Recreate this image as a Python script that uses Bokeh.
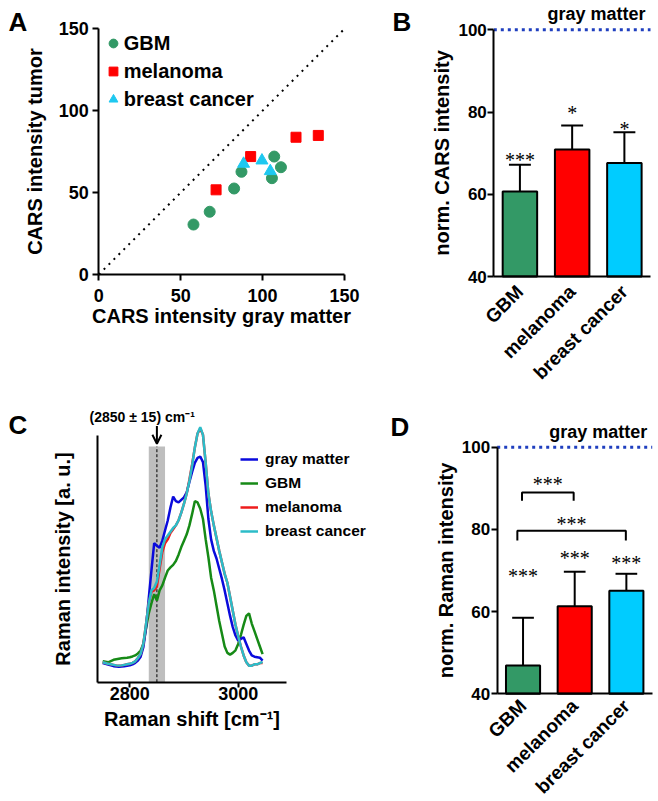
import math
from bokeh.plotting import figure
from bokeh.models import (Range1d, FixedTicker, Label, LabelSet, Legend, LegendItem,
                          Arrow, OpenHead, ColumnDataSource, LinearAxis)
from bokeh.embed import file_html
from bokeh.resources import INLINE

FONT = "Liberation Sans"

# ---------------- data ----------------
# Panel A: CARS intensity gray matter (x) vs tumor (y)
gbm_gray = [57.8, 67.7, 82.6, 87.1, 107.1, 111.2, 105.7]
gbm_tumor = [30.5, 38.3, 52.5, 62.7, 72.0, 65.5, 58.8]
mel_gray = [71.6, 92.7, 120.4, 134.0]
mel_tumor = [51.7, 72.0, 83.8, 84.9]
brc_gray = [88.4, 99.6, 104.7]
brc_tumor = [67.6, 69.6, 63.1]
identity = [0, 150]
a_ticks = [0, 50, 100, 150]

# Panels B and D: normalised intensities (gray matter = 100)
groups = ["GBM", "melanoma", "breast cancer"]
cat_pos = [0, 1, 2]
cat_extent = [-0.5, 2.5]
cars_mean = [60.7, 70.9, 67.6]
cars_err = [67.2, 76.7, 75.1]
cars_stars = ["***", "*", "*"]
cars_star_y = [69.4, 80.8, 76.9]

raman_mean = [46.9, 61.3, 65.1]
raman_err = [58.5, 69.7, 69.2]
raman_stars = ["***", "***", "***"]
raman_star_y = [69.6, 74.1, 72.8]
bracket_left = [-0.02, -0.11]
bracket_right = [0.98, 1.99]
bracket_top = [89.0, 79.7]
bracket_end = [87.0, 77.3]
bracket_stars = ["***", "***"]
bracket_star_y = [91.9, 82.3]
bar_ticks = [40, 60, 80, 100]
bar_floor = 40
reference_level = 100

# Panel C: Raman spectra
shift = [2750, 2755, 2760, 2765, 2770, 2775, 2780, 2785, 2790, 2795,
         2800, 2805, 2810, 2815, 2820, 2825, 2830, 2835, 2840, 2845,
         2850, 2855, 2860, 2865, 2870, 2875, 2880, 2885, 2890, 2895,
         2900, 2905, 2910, 2915, 2920, 2925, 2930, 2935, 2940, 2945,
         2950, 2955, 2960, 2965, 2970, 2975, 2980, 2985, 2990, 2995,
         3000, 3005, 3010, 3015, 3020, 3025, 3030, 3035, 3040, 3045]
gray_matter = [7.5, 7.2, 6.9, 6.6, 6.3, 6.2, 6.1, 6.2, 6.3, 6.4,
               6.6, 7.0, 7.6, 8.5, 10.0, 13.7, 21.6, 33.0, 44.0, 54.5,
               53.5, 52.7, 55.5, 59.5, 63.4, 68.5, 72.8, 71.0, 70.5, 71.5,
               72.5, 74.5, 78.5, 82.5, 86.0, 88.0, 88.5, 86.3, 77.0, 64.0,
               56.0, 51.5, 48.5, 44.5, 40.5, 36.0, 31.0, 26.0, 21.6, 18.3,
               16.3, 17.0, 17.6, 15.0, 12.4, 10.5, 10.0, 9.8, 9.6, 8.5]
gbm = [8.2, 8.0, 7.8, 8.3, 8.8, 9.0, 9.2, 9.4, 9.5, 9.6,
       9.8, 10.1, 10.5, 11.3, 12.4, 15.0, 21.0, 27.0, 31.0, 34.5,
       32.0, 36.0, 38.0, 41.0, 43.8, 45.0, 46.0, 47.5, 50.0, 53.0,
       55.5, 58.0, 61.5, 66.0, 71.0, 70.5, 68.0, 64.0, 56.0, 49.0,
       41.0, 36.0, 30.0, 24.0, 19.0, 14.0, 11.5, 10.8, 11.5, 12.5,
       15.0, 18.5, 22.5, 26.0, 27.0, 23.0, 20.0, 17.0, 14.0, 11.0]
melanoma = [7.8, 7.5, 7.2, 7.0, 6.8, 6.6, 6.5, 6.6, 6.8, 7.0,
            7.2, 7.6, 8.2, 9.5, 11.1, 15.0, 22.9, 31.0, 35.5, 36.0,
            37.5, 44.5, 51.0, 54.5, 56.0, 58.5, 60.0, 61.5, 63.5, 66.5,
            70.0, 74.0, 79.5, 85.5, 92.0, 97.5, 99.5, 97.0, 86.0, 74.0,
            67.0, 61.5, 56.5, 51.5, 47.0, 42.5, 39.0, 33.5, 28.0, 22.5,
            18.0, 14.0, 10.5, 7.8, 6.5, 6.5, 7.0, 7.0, 7.5, 7.5]
breast_cancer = [7.8, 7.5, 7.2, 7.0, 6.8, 6.6, 6.5, 6.6, 6.8, 7.0,
                 7.2, 7.6, 8.2, 9.5, 11.1, 15.0, 22.9, 31.0, 36.0, 37.0,
                 39.5, 46.0, 53.0, 56.0, 57.5, 59.0, 60.5, 61.5, 63.5, 66.5,
                 70.0, 74.0, 79.0, 85.0, 92.0, 97.5, 100.0, 97.0, 86.0, 74.0,
                 67.0, 61.5, 56.5, 51.5, 47.0, 42.5, 39.0, 33.5, 28.0, 22.5,
                 18.0, 14.0, 10.5, 7.8, 6.5, 6.5, 7.0, 7.0, 7.5, 8.0]
band_center = 2850
band_half = 15
band_top = 92.4
arrow_top = 100.5
arrow_tip = 93.5
c_ticks = [2800, 3000]
c_extent = [2741, 3090]
c_axis_top = 96.7

GREEN = "#339966"
RED = "#ff0000"
CYAN = "#00ccff"
TRI = "#1ec8f0"
DOTBLUE = "#1f3fbf"
LINE_COLORS = {"gray matter": "#0a0adc", "GBM": "#168a16",
               "melanoma": "#ee1c1c", "breast cancer": "#2cbcc8"}

# ---------------- layout (page pixels) ----------------
W, H = 656, 800
OX, OY = 0, 0          # canvas origin on the page (Bokeh's page template has no body margin)


def page_range(v0, p0, v1, p1, c0, c1):
    k = (v1 - v0) / (p1 - p0)
    return Range1d(v0 + (c0 - p0) * k, v0 + (c1 - p0) * k)


def xr(v0, p0, v1, p1):
    return page_range(v0, p0, v1, p1, OX, OX + W)


def yr(v0, p0, v1, p1):
    return page_range(v0, p0, v1, p1, OY + H, OY)


def X(px):
    return px - OX


def Y(py):
    return OY + H - py


p = figure(width=W, height=H, x_range=Range1d(0, W), y_range=Range1d(0, H),
           x_axis_location=None, y_axis_location=None, min_border=0,
           toolbar_location=None, output_backend="svg")
p.outline_line_color = None
p.grid.visible = False
p.extra_x_ranges = {
    "xA": xr(0, 98.3, 150, 344.0),
    "xB": xr(-0.5, 493.3, 2.5, 650.0),
    "xC": xr(2800, 129.3, 3000, 237.7),
    "xD": xr(-0.5, 496.7, 2.5, 651.7),
}
p.extra_y_ranges = {
    "yA": yr(0, 274.0, 150, 28.3),
    "yB": yr(40, 276.0, 100, 29.3),
    "yC": yr(0, 681.7, 100, 426.7),
    "yD": yr(40, 693.3, 100, 446.7),
}


def style_axis(ax, tick_size, label_size="20px"):
    ax.axis_line_width = 2
    ax.axis_line_color = "black"
    ax.major_tick_line_width = 2
    ax.major_tick_line_color = "black"
    ax.major_tick_out = 6
    ax.major_tick_in = 0
    ax.minor_tick_line_color = None
    ax.major_label_text_font = FONT
    ax.major_label_text_font_style = "bold"
    ax.major_label_text_font_size = tick_size
    ax.major_label_text_color = "black"
    ax.axis_label_text_font = FONT
    ax.axis_label_text_font_style = "bold"
    ax.axis_label_text_font_size = label_size
    ax.axis_label_text_color = "black"


def add_axis(side, panel, loc, bounds, ticks, label, tick_size, label_size="20px"):
    ax = LinearAxis(x_range_name="x" + panel, y_range_name="y" + panel, fixed_location=loc,
                    bounds=bounds, ticker=FixedTicker(ticks=ticks), axis_label=label)
    style_axis(ax, tick_size, label_size)
    p.add_layout(ax, side)
    return ax


def text(x, y, s, size, align="left", bold=True, baseline="middle"):
    p.add_layout(Label(x=x, y=y, text=s, text_font=FONT, text_font_size=size,
                       text_font_style="bold" if bold else "normal", text_align=align,
                       text_baseline=baseline, text_color="black"))


# ---------------- Panel A ----------------
kwA = dict(x_range_name="xA", y_range_name="yA")
p.line(identity, identity, line_color="black", line_width=2, line_dash="2 5", **kwA)
rA1 = p.scatter(gbm_gray, gbm_tumor, marker="circle", size=11, fill_color=GREEN,
                line_color=GREEN, **kwA)
rA2 = p.scatter(mel_gray, mel_tumor, marker="square", size=10, fill_color=RED,
                line_color=RED, **kwA)
rA3 = p.scatter(brc_gray, brc_tumor, marker="triangle", size=12, fill_color=TRI,
                line_color=TRI, **kwA)
axAx = add_axis("below", "A", 0, (0, 150), a_ticks, "CARS intensity gray matter", "18px")
axAx.major_label_standoff = 8
axAx.axis_label_standoff = 0
axAy = add_axis("left", "A", 0, (0, 150), a_ticks, "CARS intensity tumor", "18px")
axAy.major_label_standoff = 4
axAy.axis_label_standoff = 9
legA = Legend(items=[LegendItem(label=groups[0], renderers=[rA1]),
                     LegendItem(label=groups[1], renderers=[rA2]),
                     LegendItem(label=groups[2], renderers=[rA3])],
              location=(X(101.7), Y(111.3)), glyph_width=22, glyph_height=24,
              label_height=24, label_standoff=0, spacing=4, padding=0, margin=0,
              border_line_color=None, background_fill_alpha=0,
              label_text_font=FONT, label_text_font_style="bold", label_text_font_size="20px",
              label_text_color="black")
p.add_layout(legA)
text(X(8), Y(21.5), "A", "26px")


# ---------------- Panels B and D ----------------
def bar_panel(panel, means, errs, stars, star_y, ylabel, cat_standoff):
    kw = dict(x_range_name="x" + panel, y_range_name="y" + panel)
    p.vbar(x=cat_pos, top=means, bottom=bar_floor, width=0.66, fill_color=[GREEN, RED, CYAN],
           line_color="black", line_width=2, **kw)
    p.segment(x0=cat_pos, y0=means, x1=cat_pos, y1=errs, line_color="black", line_width=2, **kw)
    p.segment(x0=[x - 0.21 for x in cat_pos], y0=errs, x1=[x + 0.21 for x in cat_pos], y1=errs,
              line_color="black", line_width=2, **kw)
    p.line(cat_extent, [reference_level, reference_level], line_color=DOTBLUE, line_width=3,
           line_dash="3 4", **kw)
    src = ColumnDataSource(dict(x=cat_pos, y=star_y, t=stars))
    p.add_layout(LabelSet(x="x", y="y", text="t", source=src, text_align="center",
                          text_baseline="middle", y_offset=-4, text_font=FONT,
                          text_font_size="20px", text_color="black", **kw))
    ay = add_axis("left", panel, cat_extent[0], (bar_floor, reference_level), bar_ticks,
                  ylabel, "17px")
    ay.major_label_standoff = 1
    ay.axis_label_standoff = 2
    ax = add_axis("below", panel, bar_floor, tuple(cat_extent), cat_pos, "", "19px")
    ax.major_label_overrides = {x: g for x, g in zip(cat_pos, groups)}
    ax.major_label_orientation = math.pi / 4
    ax.major_tick_line_color = None
    ax.major_tick_out = 0
    ax.major_label_standoff = cat_standoff
    return kw


bar_panel("B", cars_mean, cars_err, cars_stars, cars_star_y, "norm. CARS intensity", 12)
text(X(392), Y(21.5), "B", "26px")
text(X(645), Y(13.5), "gray matter", "18px", align="right")

kwD = bar_panel("D", raman_mean, raman_err, raman_stars, raman_star_y,
                "norm. Raman intensity", 9)
for i in range(len(bracket_top)):
    p.line([bracket_left[i], bracket_left[i], bracket_right[i], bracket_right[i]],
           [bracket_end[i], bracket_top[i], bracket_top[i], bracket_end[i]],
           line_color="black", line_width=2, **kwD)
bsrc = ColumnDataSource(dict(x=[(l + r) / 2 for l, r in zip(bracket_left, bracket_right)],
                             y=bracket_star_y, t=bracket_stars))
p.add_layout(LabelSet(x="x", y="y", text="t", source=bsrc, text_align="center",
                      text_baseline="middle", y_offset=-4, text_font=FONT,
                      text_font_size="20px", text_color="black", **kwD))
text(X(390), Y(426), "D", "26px")
text(X(646.7), Y(431.7), "gray matter", "18px", align="right")

# ---------------- Panel C ----------------
kwC = dict(x_range_name="xC", y_range_name="yC")
p.quad(left=[band_center - band_half], right=[band_center + band_half], bottom=[0],
       top=[band_top], fill_color="#bebebe", line_color=None, **kwC)
p.segment(x0=[band_center], y0=[0], x1=[band_center], y1=[band_top], line_color="black",
          line_width=1, line_dash="3 2", **kwC)
series = {"gray matter": gray_matter, "GBM": gbm, "melanoma": melanoma,
          "breast cancer": breast_cancer}
rend = {}
for name in ["GBM", "gray matter", "melanoma", "breast cancer"]:
    rend[name] = p.line(shift, series[name], line_color=LINE_COLORS[name], line_width=2.5, **kwC)
p.add_layout(Arrow(end=OpenHead(size=9, line_width=2, line_color="black"),
                   x_start=band_center, y_start=arrow_top, x_end=band_center, y_end=arrow_tip,
                   line_width=2, line_color="black", **kwC))
text(X(141.7), Y(416), f"({band_center} \u00b1 {band_half}) cm\u207b\u00b9", "14px", align="center")
legC = Legend(items=[LegendItem(label=n, renderers=[rend[n]]) for n in series],
              location=(X(240), Y(541.3)), glyph_width=18, glyph_height=20, label_height=20,
              label_standoff=7, spacing=4, padding=0, margin=0,
              border_line_color=None, background_fill_alpha=0,
              label_text_font=FONT, label_text_font_style="bold", label_text_font_size="15.5px",
              label_text_color="black")
p.add_layout(legC)
axCx = add_axis("below", "C", 0, tuple(c_extent), c_ticks, "Raman shift [cm\u207b\u00b9]", "18px")
axCx.major_tick_out = 5
axCx.major_label_standoff = 0
axCx.axis_label_standoff = 4
axCy = add_axis("left", "C", c_extent[0], (0, c_axis_top), [], "Raman intensity [a. u.]", "18px")
axCy.major_label_text_font_size = "0px"
axCy.axis_label_standoff = 24
text(X(8), Y(424), "C", "26px")

open("out.html", "w").write(file_html(p, INLINE))
